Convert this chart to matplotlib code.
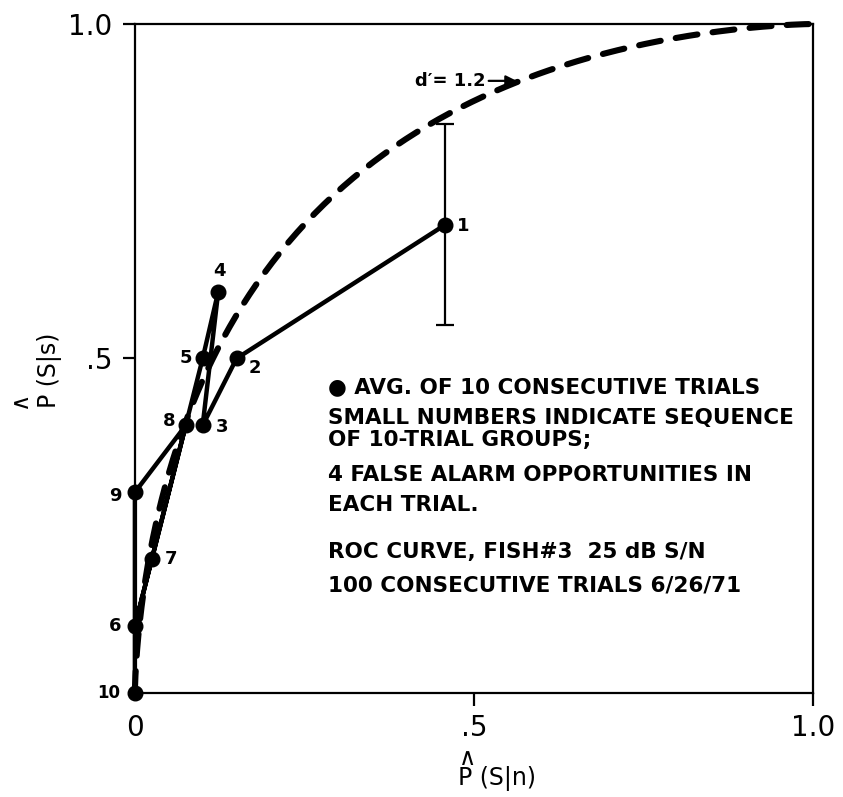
import numpy as np
import matplotlib
matplotlib.use("Agg")
import matplotlib.pyplot as plt
from statistics import NormalDist

# Group averages for successive 10-trial blocks (false alarm rate, hit rate)
group_ids = ["1", "2", "3", "4", "5", "6", "7", "8", "9", "10"]
p_false_alarm = [0.458, 0.15, 0.10, 0.123, 0.10, 0.0, 0.025, 0.075, 0.0, 0.0]
p_hit = [0.70, 0.50, 0.40, 0.60, 0.50, 0.10, 0.20, 0.40, 0.30, 0.0]

# Spread shown on the first group
first_group_err = 0.15

# Theoretical ROC for equal-variance Gaussian detection
d_prime = 1.2

# Label offsets (points) for the group numbers
label_offsets = {
    "1": (13, -1), "2": (13, -7), "3": (14, -1), "4": (1, 15),
    "5": (-12, 0), "6": (-14, 0), "7": (14, 0), "8": (-12, 3),
    "9": (-14, -3), "10": (-19, 0),
}

notes = [
    ("\u25CF AVG. OF 10 CONSECUTIVE TRIALS", 0.457),
    ("SMALL NUMBERS INDICATE SEQUENCE", 0.411),
    ("OF 10-TRIAL GROUPS;", 0.378),
    ("4 FALSE ALARM OPPORTUNITIES IN", 0.326),
    ("EACH TRIAL.", 0.281),
    ("ROC CURVE, FISH#3  25 dB S/N", 0.211),
    ("100 CONSECUTIVE TRIALS 6/26/71", 0.161),
]

fig = plt.figure(figsize=(8.43, 7.97), dpi=100)
ax = fig.add_axes([0.160, 0.1305, 0.804, 0.8394])

# ROC curve for the stated d'
nd = NormalDist()
z = np.linspace(-5.5, 5.5, 800)
roc_x = np.array([nd.cdf(v) for v in z])
roc_y = np.array([nd.cdf(v + d_prime) for v in z])
ax.plot(roc_x, roc_y, color="black", lw=4.4, dashes=(3.6, 2.5),
        dash_capstyle="round", clip_on=False, zorder=2)

# Sequence of group averages
ax.plot(p_false_alarm, p_hit, color="black", lw=3.2, marker="o",
        markersize=10.5, solid_joinstyle="round", clip_on=False, zorder=3)

# Error bar on group 1
ax.errorbar([p_false_alarm[0]], [p_hit[0]], yerr=[first_group_err],
            fmt="none", ecolor="black", elinewidth=1.6, capsize=6.5,
            capthick=1.6, zorder=2)

for gid, xv, yv in zip(group_ids, p_false_alarm, p_hit):
    dx, dy = label_offsets[gid]
    ax.annotate(gid, (xv, yv), xytext=(dx, dy), textcoords="offset points",
                ha="center", va="center", fontsize=13 if gid != "10" else 12,
                fontweight="bold", annotation_clip=False)

# d' annotation with arrow to the curve
arrow_y = 0.915
tip_x = nd.cdf(nd.inv_cdf(arrow_y) - d_prime) - 0.005
ax.annotate("", xy=(tip_x, arrow_y), xytext=(0.522, arrow_y),
            arrowprops=dict(arrowstyle="-|>", color="black", lw=1.6,
                            mutation_scale=16, shrinkA=0, shrinkB=0))
ax.text(0.518, arrow_y, "d\u2032= 1.2", ha="right", va="center",
        fontsize=13, fontweight="bold")

for txt, yv in notes:
    ax.text(0.285, yv, txt, ha="left", va="center", fontsize=15.5,
            fontweight="bold")

ax.set_xlim(0, 1)
ax.set_ylim(0, 1)
ax.set_xticks([0, 0.5, 1.0])
ax.set_xticklabels(["0", ".5", "1.0"])
ax.set_yticks([0.5, 1.0])
ax.set_yticklabels([".5", "1.0"])
ax.tick_params(axis="both", direction="out", length=9, width=1.6,
               labelsize=20)
ax.tick_params(axis="x", pad=6)
ax.tick_params(axis="y", pad=7)
ax.xaxis.get_major_ticks()[0].tick1line.set_visible(False)
for sp in ax.spines.values():
    sp.set_linewidth(1.6)

ax.set_xlabel("\u2227\nP (S|n)", fontsize=17, linespacing=0.8,
              multialignment="left")
ax.set_ylabel("\u2227\nP (S|s)", fontsize=17, linespacing=1.3,
              multialignment="left")
ax.xaxis.set_label_coords(0.535, -0.079)
ax.yaxis.set_label_coords(-0.108, 0.483)

fig.savefig("out.png", dpi=100)
